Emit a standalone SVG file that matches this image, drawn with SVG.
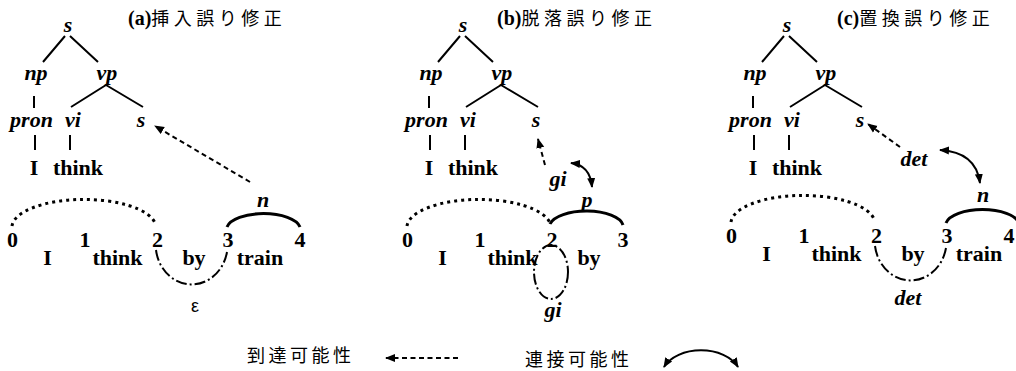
<svg xmlns="http://www.w3.org/2000/svg" width="1016" height="371" viewBox="0 0 1016 371">
<defs>
<style>
.cat{font-family:"Liberation Serif",serif;font-weight:bold;font-style:italic;font-size:22px;text-anchor:middle;fill:#000}
.wd{font-family:"Liberation Serif",serif;font-weight:bold;font-size:22px;text-anchor:middle;fill:#000}
.eps{font-family:"Liberation Sans",sans-serif;font-size:18px;text-anchor:middle;fill:#000}
.ttl{font-family:"Liberation Serif",serif;font-weight:bold;font-size:20px;fill:#000}
.jp{font-family:"Noto Sans CJK JP",sans-serif;font-weight:normal}
.tj{font-size:18px;letter-spacing:4.5px}
.lg{font-family:"Noto Sans CJK JP",sans-serif;font-size:18px;letter-spacing:3.5px;fill:#000}
.tl{stroke:#000;stroke-width:2;fill:none}
.dot{stroke:#000;stroke-width:3;stroke-dasharray:3 4;fill:none}
.dd{stroke:#000;stroke-width:2;stroke-dasharray:11 3 2 3;fill:none}
.arc{stroke:#000;stroke-width:3;fill:none}
.reach{stroke:#000;stroke-width:2;stroke-dasharray:5 3.5;fill:none;marker-end:url(#ah)}
.conn{stroke:#000;stroke-width:2;fill:none;marker-start:url(#ah);marker-end:url(#ah)}
</style>
<marker id="ah" viewBox="0 0 10 10" refX="9" refY="5" markerWidth="10" markerHeight="10" markerUnits="userSpaceOnUse" orient="auto-start-reverse"><path d="M0,1 L10,5 L0,9 z" fill="#000"/></marker>
</defs>

<!-- Titles -->
<g id="title-a"><text class="ttl" x="128" y="25">(a)<tspan class="jp tj">挿入誤り修正</tspan></text></g>
<g id="title-b"><text class="ttl" x="497" y="25">(b)<tspan class="jp tj">脱落誤り修正</tspan></text></g>
<g id="title-c"><text class="ttl" x="837" y="25">(c)<tspan class="jp tj">置換誤り修正</tspan></text></g>

<!-- Panel A tree -->
<g id="panel-a-tree">
<g id="a-s"><text class="cat" x="68" y="32">s</text></g>
<g id="a-np"><text class="cat" x="36" y="80">np</text></g>
<g id="a-vp"><text class="cat" x="107" y="80">vp</text></g>
<g id="a-pron"><text class="cat" x="31.5" y="127">pron</text></g>
<g id="a-vi"><text class="cat" x="73" y="127">vi</text></g>
<g id="a-s2"><text class="cat" x="141" y="127">s</text></g>
<g id="a-I"><text class="wd" x="34" y="175">I</text></g>
<g id="a-think"><text class="wd" x="78" y="175">think</text></g>
</g>
<g id="panel-b-tree" transform="translate(395,0)">
<g id="b-s"><text class="cat" x="68" y="32">s</text></g>
<g id="b-np"><text class="cat" x="36" y="80">np</text></g>
<g id="b-vp"><text class="cat" x="107" y="80">vp</text></g>
<g id="b-pron"><text class="cat" x="31.5" y="127">pron</text></g>
<g id="b-vi"><text class="cat" x="73" y="127">vi</text></g>
<g id="b-s2"><text class="cat" x="141" y="127">s</text></g>
<g id="b-I"><text class="wd" x="34" y="175">I</text></g>
<g id="b-think"><text class="wd" x="78" y="175">think</text></g>
</g>
<g id="panel-c-tree" transform="translate(719,0)">
<g id="c-s"><text class="cat" x="68" y="32">s</text></g>
<g id="c-np"><text class="cat" x="36" y="80">np</text></g>
<g id="c-vp"><text class="cat" x="107" y="80">vp</text></g>
<g id="c-pron"><text class="cat" x="31.5" y="127">pron</text></g>
<g id="c-vi"><text class="cat" x="73" y="127">vi</text></g>
<g id="c-s2"><text class="cat" x="141" y="127">s</text></g>
<g id="c-I"><text class="wd" x="34" y="175">I</text></g>
<g id="c-think"><text class="wd" x="78" y="175">think</text></g>
</g>

<!-- Panel A chart -->
<g id="a-chart">
<g id="a-n0"><text class="wd" x="12.5" y="247">0</text></g>
<g id="a-n1"><text class="wd" x="85" y="247">1</text></g>
<g id="a-n2"><text class="wd" x="157.5" y="247">2</text></g>
<g id="a-n3"><text class="wd" x="228" y="247">3</text></g>
<g id="a-n4"><text class="wd" x="300" y="247">4</text></g>
<g id="a-wI"><text class="wd" x="47.5" y="265">I</text></g>
<g id="a-wthink"><text class="wd" x="117.5" y="265">think</text></g>
<g id="a-wby"><text class="wd" x="194" y="265">by</text></g>
<g id="a-wtrain"><text class="wd" x="260" y="265">train</text></g>
<g id="a-eps"><text class="eps" x="195" y="312">ε</text></g>
<g id="a-n"><text class="cat" x="263" y="207">n</text></g>
</g>

<!-- Panel B chart -->
<g id="b-chart">
<g id="b-n0"><text class="wd" x="407.5" y="247">0</text></g>
<g id="b-n1"><text class="wd" x="480" y="247">1</text></g>
<g id="b-n2"><text class="wd" x="552" y="247">2</text></g>
<g id="b-n3"><text class="wd" x="623" y="247">3</text></g>
<g id="b-wI"><text class="wd" x="442.5" y="265">I</text></g>
<g id="b-wthink"><text class="wd" x="512.5" y="265">think</text></g>
<g id="b-wby"><text class="wd" x="589" y="265">by</text></g>
<g id="b-p"><text class="cat" x="587" y="207">p</text></g>
<g id="b-gi-low"><text class="cat" x="553" y="317">gi</text></g>
<g id="b-gi-up"><text class="cat" x="558" y="186">gi</text></g>
</g>

<!-- Panel C chart -->
<g id="c-chart">
<g id="c-n0"><text class="wd" x="731.5" y="243">0</text></g>
<g id="c-n1"><text class="wd" x="804" y="243">1</text></g>
<g id="c-n2"><text class="wd" x="876.5" y="243">2</text></g>
<g id="c-n3"><text class="wd" x="947" y="243">3</text></g>
<g id="c-n4"><text class="wd" x="1009" y="243">4</text></g>
<g id="c-wI"><text class="wd" x="766.5" y="261">I</text></g>
<g id="c-wthink"><text class="wd" x="836.5" y="261">think</text></g>
<g id="c-wby"><text class="wd" x="913" y="261">by</text></g>
<g id="c-wtrain"><text class="wd" x="979" y="261">train</text></g>
<g id="c-det-low"><text class="cat" x="908" y="305">det</text></g>
<g id="c-det-up"><text class="cat" x="914" y="166">det</text></g>
<g id="c-n"><text class="cat" x="983" y="202">n</text></g>
</g>

<!-- Legend -->
<g id="legend-reach"><text class="lg" x="247" y="362">到達可能性</text></g>
<g id="legend-conn"><text class="lg" x="525" y="366">連接可能性</text></g>

<!-- Connectors -->
<g id="connectors">
<g id="tree-lines-a">
<path class="tl" d="M65,36 L43,62 M70,36 L98,62 M34,96 L34,108 M106,85 L71,107 M106,85 L143,107 M35,135 L35,150 M70,135 L70,150"/>
</g>
<g id="tree-lines-b" transform="translate(395,0)">
<path class="tl" d="M65,36 L43,62 M70,36 L98,62 M34,96 L34,108 M106,85 L71,107 M106,85 L143,107 M35,135 L35,150 M70,135 L70,150"/>
</g>
<g id="tree-lines-c" transform="translate(719,0)">
<path class="tl" d="M65,36 L43,62 M70,36 L98,62 M34,96 L34,108 M106,85 L71,107 M106,85 L143,107 M35,135 L35,150 M70,135 L70,150"/>
</g>
<!-- panel a -->
<path class="reach" d="M250,182 L155,126"/>
<path class="dot" d="M12,226 A72,28 0 0 1 155,223"/>
<path class="dd" d="M156,250 A36,40 0 0 0 227,252"/>
<path class="arc" d="M227,227 A37,16 0 0 1 300,227"/>
<!-- panel b -->
<path class="reach" d="M545,165 L538,139"/>
<path class="conn" d="M571,163 Q590,165 592,187"/>
<path class="dot" d="M407,226 A72,28 0 0 1 550,223"/>
<path class="arc" d="M550,224 A37,16 0 0 1 623,225"/>
<ellipse class="dd" cx="551" cy="272" rx="17" ry="27"/>
<!-- panel c -->
<path class="reach" d="M900,147 L868,124"/>
<path class="conn" d="M940,150 Q976,152 980,183"/>
<path class="dot" d="M731,222 A72,28 0 0 1 874,219"/>
<path class="dd" d="M875,246 A36,40 0 0 0 946,248"/>
<path class="arc" d="M946,223 A37,16 0 0 1 1019,223"/>
<!-- legend -->
<path class="reach" d="M458,358 L386,358"/>
<path class="conn" d="M664,367 A40,27 0 0 1 738,367"/>
</g>
</svg>
